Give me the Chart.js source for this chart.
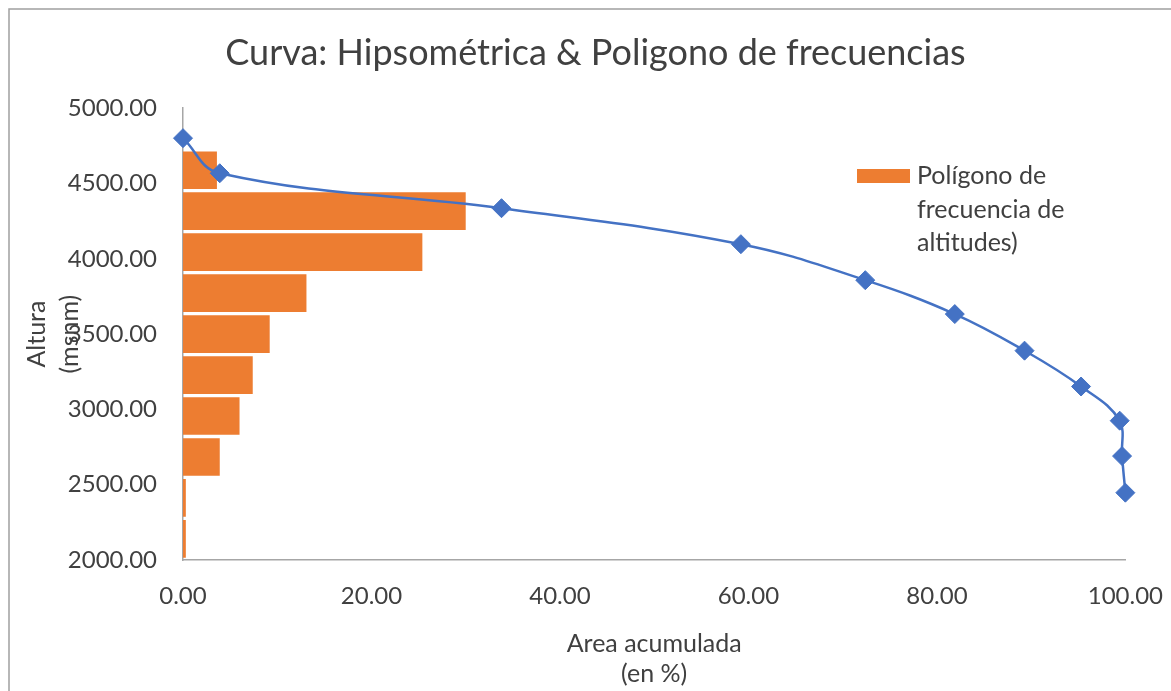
<!DOCTYPE html>
<html>
<head>
<meta charset="utf-8">
<script src="https://cdn.jsdelivr.net/npm/chart.js@4"></script>
<style>
  html, body { margin: 0; padding: 0; background: #fff; }
  #wrap { width: 1171px; height: 691px; }
</style>
</head>
<body>
<div id="wrap"><canvas id="hipsoChart"></canvas></div>
<script>
'use strict';

// frecuencia de altitudes (barras)
const barAltitudes = [4588, 4316, 4044, 3772, 3500, 3228, 2956, 2684, 2412, 2140];
const barPercents = [3.6, 30.0, 25.4, 13.1, 9.2, 7.4, 6.0, 3.9, 0.3, 0.3];

// curva hipsometrica
const curveArea = [0, 3.9, 33.8, 59.2, 72.4, 81.9, 89.3, 95.3, 99.4, 99.65, 100];
const curveAltitudes = [4801, 4568, 4336, 4097, 3858, 3633, 3390, 3152, 2925, 2690, 2447];

const titleText = 'Curva: Hipsométrica & Poligono de frecuencias';
const legendLines = ['Polígono de', 'frecuencia de', 'altitudes)'];

const textColor = '#404040';
const fontName = 'Lato';

const chartBorder = {
  id: 'chartBorder',
  beforeDraw(chart) {
    const ctx = chart.ctx;
    ctx.save();
    ctx.strokeStyle = '#a0a0a0';
    ctx.lineWidth = 1.5;
    ctx.strokeRect(9, 9, 1300, 800);
    ctx.restore();
  }
};

const sideLegend = {
  id: 'sideLegend',
  afterDraw(chart) {
    const ctx = chart.ctx;
    ctx.save();
    ctx.fillStyle = '#ED7D31';
    ctx.fillRect(857, 169, 53, 14);
    ctx.fillStyle = textColor;
    ctx.font = '25px ' + fontName;
    ctx.textBaseline = 'alphabetic';
    ctx.textAlign = 'left';
    legendLines.forEach((line, i) => {
      ctx.fillText(line, 917, 184 + i * 33.5);
    });
    ctx.restore();
  }
};

const chartData = {
  datasets: [
    {
      type: 'line',
      label: 'Curva hipsométrica',
      data: curveArea.map((a, i) => ({ x: a, y: curveAltitudes[i] })),
      borderColor: '#4472C4',
      backgroundColor: '#4472C4',
      borderWidth: 2.5,
      tension: 0.4,
      pointStyle: 'rectRot',
      pointRadius: 9.5,
      pointBorderWidth: 1,
      fill: false,
      clip: false,
      order: 0
    },
    {
      type: 'bar',
      label: 'Polígono de frecuencia de altitudes)',
      data: barAltitudes.map((h, i) => ({ x: barPercents[i], y: h })),
      backgroundColor: '#ED7D31',
      borderWidth: 0,
      categoryPercentage: 1,
      barPercentage: 0.92,
      order: 1
    }
  ]
};

const options = {
  indexAxis: 'y',
  responsive: true,
  maintainAspectRatio: false,
  animation: false,
  layout: { padding: { left: 20, right: 0, top: 0, bottom: 0 } },
  plugins: {
    legend: { display: false },
    tooltip: { enabled: false },
    title: {
      display: true,
      text: titleText,
      color: textColor,
      font: { family: fontName, size: 36, weight: 'normal' },
      padding: { top: 32, bottom: 33 }
    }
  },
  scales: {
    x: {
      type: 'linear',
      position: 'bottom',
      min: 0,
      max: 100,
      grid: { display: false, drawTicks: true, tickLength: 14 },
      border: { display: true, color: '#a6a6a6', width: 1.5 },
      ticks: {
        stepSize: 20,
        padding: 8,
        color: textColor,
        font: { family: fontName, size: 24 },
        callback: v => v.toFixed(2)
      },
      title: {
        display: true,
        text: ['Area acumulada', '(en %)'],
        color: textColor,
        font: { family: fontName, size: 25, lineHeight: '30px' },
        padding: { top: 0, bottom: 2 }
      },
      afterFit(scale) { scale.height = 131; }
    },
    y: {
      type: 'linear',
      position: 'left',
      min: 2000,
      max: 5000,
      offset: false,
      grid: { display: false, drawTicks: false, offset: false },
      border: { display: true, color: '#a6a6a6', width: 1.5 },
      ticks: {
        stepSize: 500,
        padding: 26,
        color: textColor,
        font: { family: fontName, size: 24 },
        callback: v => v.toFixed(2)
      },
      title: {
        display: true,
        text: ['Altura', '(msnm)'],
        color: textColor,
        font: { family: fontName, size: 25, lineHeight: '33px' },
        padding: { top: 0, bottom: 0 }
      },
      afterFit(scale) { scale.width = 163; }
    }
  }
};

let canvasChart = document.getElementById('hipsoChart').getContext('2d');
const myChart = new Chart(canvasChart, {
  type: 'bar',
  data: chartData,
  options: options,
  plugins: [chartBorder, sideLegend]
});
</script>
</body>
</html>
